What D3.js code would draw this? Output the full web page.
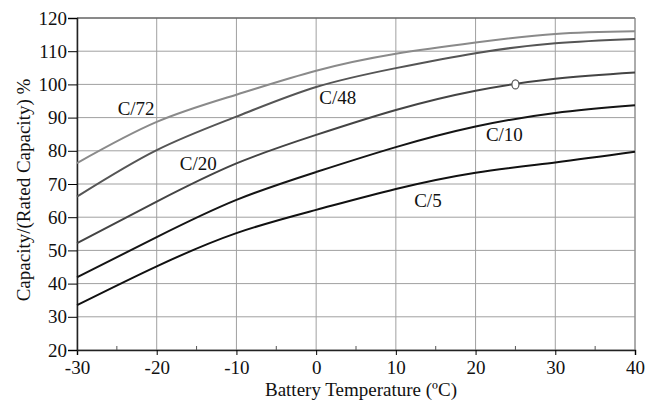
<!DOCTYPE html>
<meta charset="utf-8">
<style>
body { margin: 0; background: #fff; }
.grid line { stroke: #a0a0a0; stroke-width: 1; }
.series { fill: none; stroke-width: 2; }
svg text { font-family: "Liberation Serif", "Times New Roman", serif; }
</style>
<body>
<script src="https://cdnjs.cloudflare.com/ajax/libs/d3/7.8.5/d3.min.js"></script>
<script>

var temps = [-30, -20, -10, 0, 10, 20, 30, 40];

var c72 = [76.3, 88.7, 96.9, 104.1, 109.2, 112.6, 115.2, 116.0],
    c48 = [66.2, 80.2, 90.3, 99.2, 104.9, 109.4, 112.4, 113.7],
    c20 = [52.2, 64.7, 76.2, 84.8, 92.3, 98.1, 101.7, 103.6],
    c10 = [41.9, 54.0, 65.2, 73.6, 81.1, 87.3, 91.4, 93.7],
    c5  = [33.5, 45.2, 55.2, 62.2, 68.5, 73.4, 76.5, 79.7];

var seriesNames = ["C/72", "C/48", "C/20", "C/10", "C/5"];
var seriesValues = [c72, c48, c20, c10, c5];
var seriesColors = ["#8a8a8a", "#555", "#444", "#151515", "#111"];
// label anchor: [temperature, capacity]
var labelPos = [[-24.9, 90.8], [0.4, 94.0], [-17.1, 74.2], [21.3, 83.0], [12.3, 63.0]];

var marker = [25, 100];

var xTicks = [-30, -20, -10, 0, 10, 20, 30, 40],
    xMinor = [-25, -15, -5, 5, 15, 25, 35],
    yTicks = [20, 30, 40, 50, 60, 70, 80, 90, 100, 110, 120];

var width = 660, height = 407;
var mLeft = 77, mRight = 635, mTop = 18, mBottom = 350;
var fs = 19;

var svg = d3.select("body").append("svg")
    .attr("width", width)
    .attr("height", height);

var x = d3.scaleLinear().domain([-30, 40]).range([mLeft, mRight]);
var y = d3.scaleLinear().domain([20, 120]).range([mBottom, mTop]);

// grid
var grid = svg.append("g").attr("class", "grid");
grid.selectAll(".gy").data(yTicks).enter().append("line")
    .attr("x1", mLeft).attr("x2", mRight)
    .attr("y1", function(d) { return y(d); })
    .attr("y2", function(d) { return y(d); });
grid.selectAll(".gx").data(xTicks).enter().append("line")
    .attr("y1", mTop).attr("y2", mBottom)
    .attr("x1", function(d) { return x(d); })
    .attr("x2", function(d) { return x(d); });

// frame
svg.append("line").attr("x1", mLeft).attr("x2", mRight).attr("y1", mTop).attr("y2", mTop)
    .attr("stroke", "#444").attr("stroke-width", 1.2);
svg.append("line").attr("x1", mRight).attr("x2", mRight).attr("y1", mTop).attr("y2", mBottom)
    .attr("stroke", "#888").attr("stroke-width", 1);

// axes
var fmt = function(d) { return String(d); };

var xAxis = svg.append("g")
    .attr("transform", "translate(0," + mBottom + ")")
    .call(d3.axisBottom(x).tickValues(xTicks).tickSize(5).tickPadding(6).tickFormat(fmt));
xAxis.attr("font-size", fs);
xAxis.select(".domain").attr("stroke", "#222").attr("stroke-width", 1.5);
xAxis.selectAll("text").attr("fill", "#111");

svg.append("g").selectAll("line").data(xMinor).enter().append("line")
    .attr("x1", function(d) { return x(d); })
    .attr("x2", function(d) { return x(d); })
    .attr("y1", mBottom).attr("y2", mBottom - 4)
    .attr("stroke", "#555");

var yAxis = svg.append("g")
    .attr("transform", "translate(" + mLeft + ",0)")
    .call(d3.axisLeft(y).tickValues(yTicks).tickSize(9).tickPadding(1).tickFormat(fmt));
yAxis.attr("font-size", fs);
yAxis.select(".domain").attr("stroke", "#222").attr("stroke-width", 1.5);
yAxis.selectAll("text").attr("fill", "#111");

// series
var line = d3.line()
    .x(function(d) { return x(d[0]); })
    .y(function(d) { return y(d[1]); })
    .curve(d3.curveNatural);

svg.selectAll(".series").data(seriesValues).enter().append("path")
    .attr("class", "series")
    .attr("stroke", function(d, i) { return seriesColors[i]; })
    .attr("d", function(vals) {
      return line(vals.map(function(v, i) { return [temps[i], v]; }));
    });

svg.selectAll(".lbl").data(seriesNames).enter().append("text")
    .attr("x", function(d, i) { return x(labelPos[i][0]); })
    .attr("y", function(d, i) { return y(labelPos[i][1]); })
    .attr("font-size", fs)
    .attr("fill", "#111")
    .text(function(d) { return d; });

svg.append("ellipse")
    .attr("cx", x(marker[0])).attr("cy", y(marker[1]))
    .attr("rx", 3.5).attr("ry", 4.5)
    .attr("fill", "#fff").attr("stroke", "#555").attr("stroke-width", 1.2);

// axis titles
svg.append("text")
    .attr("x", 361)
    .attr("y", 396)
    .attr("text-anchor", "middle")
    .attr("font-size", fs)
    .attr("fill", "#111")
    .text("Battery Temperature (ºC)");

svg.append("text")
    .attr("transform", "translate(30,190) rotate(-90)")
    .attr("text-anchor", "middle")
    .attr("font-size", fs)
    .attr("fill", "#111")
    .text("Capacity/(Rated Capacity) %");

</script>
